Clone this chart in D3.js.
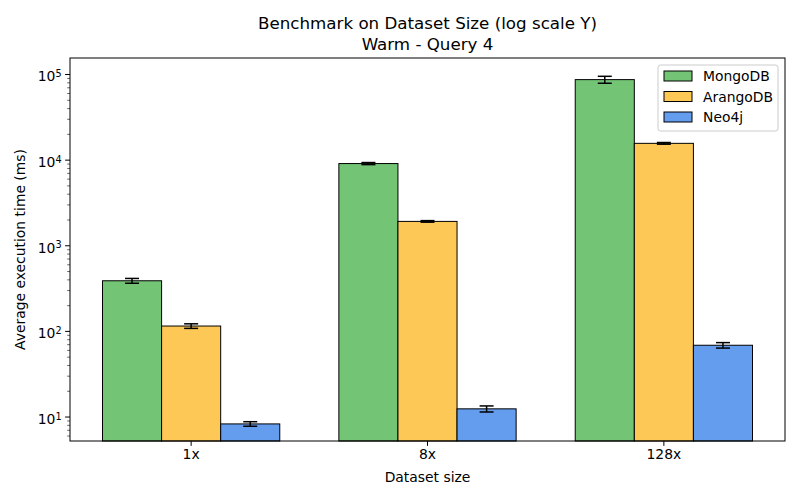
<!DOCTYPE html>
<html><head><meta charset="utf-8">
<script src="https://cdn.jsdelivr.net/npm/d3@7"></script>
<style>body{margin:0;background:#fff}svg{font-family:"DejaVu Sans",sans-serif}</style>
</head><body><svg id="c" width="800" height="500"></svg>
<script>
const categories = ["1x", "8x", "128x"];
const seriesNames = ["MongoDB", "ArangoDB", "Neo4j"];
const mongoValues = [385, 9000, 86000];
const mongoErrors = [25, 250, 8000];
const arangoValues = [114, 1900, 15500];
const arangoErrors = [7, 40, 350];
const neoValues = [8.2, 12.3, 68];
const neoErrors = [0.5, 1.0, 5];
const colors = ["#74c476", "#fec857", "#649cee"];
const yTickValues = [10, 100, 1000, 10000, 100000];
const yTickExponents = ["1", "2", "3", "4", "5"];

const series = [
  {name: seriesNames[0], values: mongoValues, errors: mongoErrors, color: colors[0]},
  {name: seriesNames[1], values: arangoValues, errors: arangoErrors, color: colors[1]},
  {name: seriesNames[2], values: neoValues, errors: neoErrors, color: colors[2]}
];

const svg = d3.select("#c");
const L = 70, R = 785, T = 58, B = 441;

const x = d3.scaleBand().domain(categories).range([L, R]).paddingInner(0.25).paddingOuter(0.1375);
const xs = d3.scaleBand().domain(seriesNames).range([0, x.bandwidth()]);
const y = d3.scaleLog().domain([5.18, 153800]).range([B, T]);

// bars
series.forEach(s => {
  const g = svg.append("g");
  g.selectAll("rect").data(categories).enter().append("rect")
    .attr("x", c => x(c) + xs(s.name))
    .attr("y", (c, i) => y(s.values[i]))
    .attr("width", xs.bandwidth())
    .attr("height", (c, i) => B - y(s.values[i]))
    .attr("fill", s.color).attr("stroke", "#000").attr("stroke-width", 1);
});
// error bars
series.forEach(s => {
  const g = svg.append("g").attr("stroke", "#000").attr("stroke-width", 1.5);
  categories.forEach((c, i) => {
    const cx = x(c) + xs(s.name) + xs.bandwidth() / 2;
    const y1 = y(s.values[i] - s.errors[i]), y2 = y(s.values[i] + s.errors[i]);
    g.append("line").attr("x1", cx).attr("x2", cx).attr("y1", y1).attr("y2", y2);
    g.append("line").attr("x1", cx - 7).attr("x2", cx + 7).attr("y1", y1).attr("y2", y1);
    g.append("line").attr("x1", cx - 7).attr("x2", cx + 7).attr("y1", y2).attr("y2", y2);
  });
});

// frame
svg.append("rect").attr("x", L).attr("y", T).attr("width", R - L).attr("height", B - T)
  .attr("fill", "none").attr("stroke", "#000").attr("stroke-width", 1);

// x axis
const xa = svg.append("g").attr("transform", `translate(0,${B})`)
  .call(d3.axisBottom(x).tickSize(4.9).tickPadding(3.5));
xa.select(".domain").remove();
xa.selectAll("text").attr("font-size", "13.9px").attr("fill", "#000").attr("font-family", "DejaVu Sans");

// y axis minor
const minor = [];
for (let e = 0; e <= 5; e++) for (let m = 2; m <= 9; m++) {
  const v = m * Math.pow(10, e);
  if (v >= 5.18 && v <= 153800) minor.push(v);
}
const ym = svg.append("g").attr("transform", `translate(${L},0)`)
  .call(d3.axisLeft(y).tickValues(minor).tickSize(2.8).tickFormat(""));
ym.select(".domain").remove();
ym.selectAll("line").attr("stroke-width", 0.6);

const ya = svg.append("g").attr("transform", `translate(${L},0)`)
  .call(d3.axisLeft(y).tickValues(yTickValues).tickSize(4.9).tickPadding(3.5).tickFormat(() => ""));
ya.select(".domain").remove();
ya.selectAll(".tick text").each(function(d, i) {
  const t = d3.select(this).attr("font-size", "13.9px").attr("fill", "#000").attr("font-family", "DejaVu Sans");
  t.append("tspan").text("10");
  t.append("tspan").attr("dy", "-0.45em").attr("font-size", "9.7px").text(yTickExponents[i]);
}).attr("dy", "0.5em");

// labels
svg.append("text").attr("x", (L + R) / 2).attr("y", 482).attr("text-anchor", "middle")
  .attr("font-size", "13.9px").text("Dataset size");
svg.append("text").attr("transform", `translate(25,${(T + B) / 2}) rotate(-90)`).attr("text-anchor", "middle")
  .attr("font-size", "13.9px").text("Average execution time (ms)");
svg.append("text").attr("x", (L + R) / 2).attr("y", 29).attr("text-anchor", "middle")
  .attr("font-size", "16.7px").text("Benchmark on Dataset Size (log scale Y)");
svg.append("text").attr("x", (L + R) / 2).attr("y", 50).attr("text-anchor", "middle")
  .attr("font-size", "16.7px").text("Warm - Query 4");

// legend
const lg = svg.append("g");
lg.append("rect").attr("x", 658).attr("y", 65).attr("width", 120).attr("height", 66).attr("rx", 2.5)
  .attr("fill", "#fff").attr("fill-opacity", 0.8).attr("stroke", "#ccc").attr("stroke-width", 1);
series.forEach((s, i) => {
  const yy = 71 + i * 20.5;
  lg.append("rect").attr("x", 664).attr("y", yy).attr("width", 28).attr("height", 10)
    .attr("fill", s.color).attr("stroke", "#000").attr("stroke-width", 1);
  lg.append("text").attr("x", 703).attr("y", yy + 10).attr("font-size", "13.9px").text(s.name);
});
</script></body></html>
